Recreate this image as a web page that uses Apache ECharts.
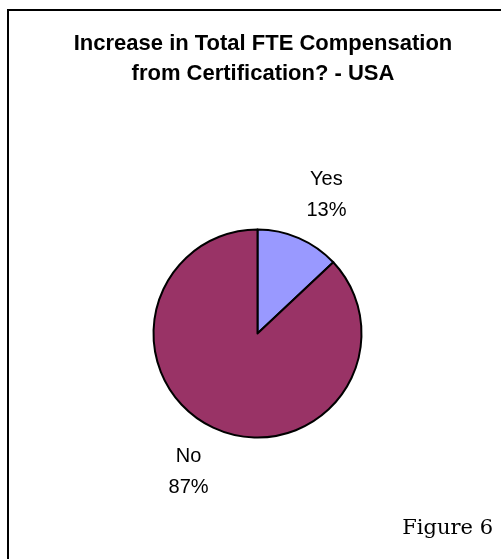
<!DOCTYPE html>
<html>
<head>
<meta charset="utf-8">
<script src="https://cdn.jsdelivr.net/npm/echarts@6/dist/echarts.min.js"></script>
<style>
  html, body { margin: 0; padding: 0; background: #ffffff; }
  #chart { width: 501px; height: 559px; }
</style>
</head>
<body>
<div id="chart"></div>
<script>
// Survey answers: did certification raise total FTE compensation?
const categories = ['Yes', 'No'];
const shares = [13, 87];
const sliceColors = ['#9999FF', '#993366'];

const titleLines = ['Increase in Total FTE Compensation', 'from Certification? - USA'];
const figureCaption = 'Figure 6';

const pieData = categories.map((name, i) => ({ name: name, value: shares[i] }));
const center = [257.5, 333.5];

const chart = echarts.init(document.getElementById('chart'), null, { renderer: 'canvas' });

chart.setOption({
  backgroundColor: '#ffffff',
  animation: false,
  title: {
    text: titleLines.join('\n'),
    left: 258,
    top: 24,
    textAlign: 'center',
    textStyle: {
      fontFamily: '"Liberation Sans", Arial, sans-serif',
      fontWeight: 'bold',
      fontSize: 22,
      lineHeight: 30,
      color: '#000000'
    }
  },
  graphic: [
    {
      type: 'rect',
      shape: { x: 8, y: 10, width: 620, height: 620 },
      style: { fill: 'none', stroke: '#000000', lineWidth: 2 },
      silent: true
    },
    {
      type: 'text',
      right: 8,
      top: 518,
      style: {
        text: figureCaption,
        fontFamily: '"DejaVu Serif", "Liberation Serif", serif',
        fontSize: 21,
        fill: '#000000'
      }
    }
  ],
  series: [
    {
      // the pie itself
      type: 'pie',
      center: center,
      radius: 104,
      startAngle: 90,
      clockwise: true,
      silent: true,
      label: { show: false },
      labelLine: { show: false },
      itemStyle: { borderColor: '#000000', borderWidth: 2 },
      color: sliceColors,
      data: pieData
    },
    {
      // invisible ring that carries the category/percent labels
      type: 'pie',
      center: center,
      radius: [120, 184],
      startAngle: 87,
      clockwise: true,
      silent: true,
      itemStyle: { color: 'rgba(0,0,0,0)', borderWidth: 0 },
      labelLine: { show: false },
      label: {
        show: true,
        position: 'inside',
        formatter: '{b}\n{d}%',
        fontFamily: '"Liberation Sans", Arial, sans-serif',
        fontSize: 20,
        lineHeight: 31,
        color: '#000000',
        align: 'center'
      },
      data: pieData
    }
  ]
});
</script>
</body>
</html>
